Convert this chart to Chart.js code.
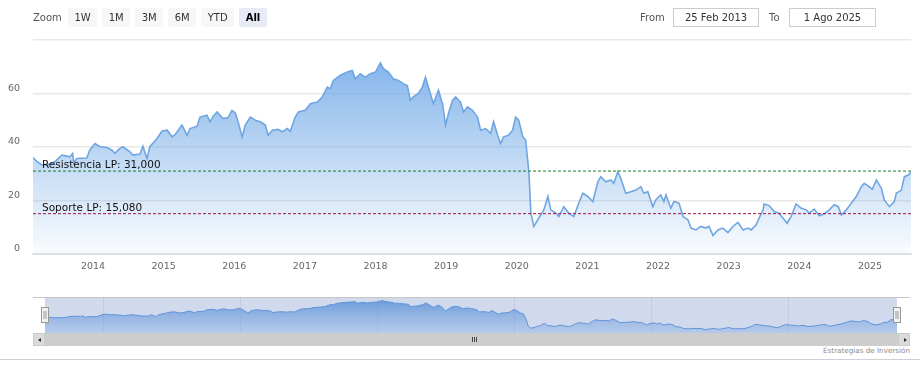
<!DOCTYPE html>
<html>
<head>
<meta charset="utf-8">
<script src="https://cdn.jsdelivr.net/npm/chart.js@4.4.1/dist/chart.umd.min.js"></script>
<style>
  html,body{margin:0;padding:0;background:#fff;}
  body{width:920px;height:369px;position:relative;overflow:hidden;font-family:"DejaVu Sans",sans-serif;}
  #main{position:absolute;left:0;top:0;}
  #nav{position:absolute;left:0;top:290px;}
  .lbl{position:absolute;font-size:10px;color:#555;line-height:19px;top:8px;}
  #btns{position:absolute;left:68px;top:8px;display:flex;gap:5px;}
  .btn{height:19px;line-height:19px;padding:0 6.5px;background:#f7f7f7;color:#333;font-size:10px;border-radius:2px;}
  .btn.sel{background:#e6ebf5;color:#000;font-weight:bold;}
  .box{position:absolute;top:8px;height:17px;line-height:17px;border:1px solid #ccc;text-align:center;font-size:10px;color:#333;background:#fff;}
  #track{position:absolute;left:33px;top:333px;width:877px;height:13px;background:#cdcdcd;}
  .sbtn{position:absolute;top:333px;width:12px;height:13px;background:#dadada;box-sizing:border-box;border:1px solid #cacaca;}
  .arrL{position:absolute;left:4px;top:4px;width:0;height:0;border-top:2.5px solid transparent;border-bottom:2.5px solid transparent;border-right:3px solid #333;}
  .arrR{position:absolute;left:5px;top:4px;width:0;height:0;border-top:2.5px solid transparent;border-bottom:2.5px solid transparent;border-left:3px solid #333;}
  .grip{position:absolute;top:337px;width:1px;height:5px;background:#444;}
  #credits{position:absolute;right:10px;top:346px;font-size:7.2px;color:#8a8a8a;}
  #hr{position:absolute;left:0;top:359px;width:920px;height:1px;background:#cdd1da;}
</style>
</head>
<body>
<canvas id="main" width="920" height="285"></canvas>
<canvas id="nav" width="920" height="43"></canvas>
<div class="lbl" style="left:33px">Zoom</div>
<div id="btns"></div>
<div class="lbl" style="left:640px">From</div>
<div class="box" style="left:673px;width:84px">25 Feb 2013</div>
<div class="lbl" style="left:769px">To</div>
<div class="box" style="left:789px;width:85px">1 Ago 2025</div>
<div id="track"></div>
<div class="sbtn" style="left:33px"><div class="arrL"></div></div>
<div class="sbtn" style="left:898px"><div class="arrR"></div></div>
<div class="grip" style="left:472px"></div>
<div class="grip" style="left:474px"></div>
<div class="grip" style="left:476px"></div>
<div id="credits">Estrategias de Inversión</div>
<div id="hr"></div>
<script>
// ---------- data ----------
const rangeButtons = ['1W','1M','3M','6M','YTD','All'];
const selectedButton = 'All';

const dates = [
'2013-02-25','2013-03-18','2013-04-12','2013-05-23','2013-06-18','2013-07-24','2013-08-19','2013-09-03','2013-09-18','2013-09-24',
'2013-10-09','2013-11-30','2013-12-15','2014-01-11','2014-02-06','2014-03-14','2014-04-09','2014-04-24','2014-05-20','2014-06-05',
'2014-07-11','2014-07-26','2014-09-01','2014-09-16','2014-10-07','2014-10-22','2014-11-28','2014-12-24','2015-01-19','2015-02-14',
'2015-03-01','2015-04-06','2015-05-02','2015-05-17','2015-06-23','2015-07-08','2015-08-13','2015-08-29','2015-09-14','2015-10-04',
'2015-11-04','2015-11-30','2015-12-20','2016-01-06','2016-01-21','2016-02-11','2016-02-27','2016-03-24','2016-04-19','2016-05-15',
'2016-06-10','2016-06-25','2016-07-16','2016-08-16','2016-09-06','2016-10-02','2016-10-17','2016-11-12','2016-11-28','2017-01-03',
'2017-01-29','2017-03-06','2017-04-01','2017-04-27','2017-05-12','2017-05-28','2017-07-03','2017-08-08','2017-09-03','2017-09-18',
'2017-10-14','2017-11-09','2017-12-05','2018-01-01','2018-01-26','2018-02-11','2018-03-08','2018-04-03','2018-04-29','2018-05-25',
'2018-06-14','2018-06-30','2018-07-15','2018-08-10','2018-08-31','2018-09-16','2018-10-01','2018-10-27','2018-11-22','2018-12-13',
'2018-12-29','2019-01-13','2019-02-03','2019-02-19','2019-03-16','2019-04-01','2019-04-21','2019-05-17','2019-06-12','2019-06-28',
'2019-07-24','2019-08-19','2019-09-03','2019-09-24','2019-10-09','2019-10-25','2019-11-19','2019-12-10','2019-12-26','2020-01-11',
'2020-02-01','2020-02-16','2020-03-04','2020-03-14','2020-03-29','2020-04-19','2020-05-04','2020-05-20','2020-06-10','2020-06-25',
'2020-07-21','2020-08-06','2020-08-31','2020-09-26','2020-10-22','2020-11-17','2020-12-08','2021-01-03','2021-01-29','2021-02-24',
'2021-03-11','2021-04-06','2021-05-02','2021-05-17','2021-06-07','2021-06-22','2021-07-18','2021-08-13','2021-09-08','2021-10-04',
'2021-10-19','2021-11-09','2021-12-05','2021-12-20','2022-01-15','2022-01-31','2022-02-11','2022-03-08','2022-03-24','2022-04-19',
'2022-05-10','2022-06-04','2022-06-20','2022-07-16','2022-08-10','2022-09-05','2022-09-21','2022-10-12','2022-11-06','2022-12-02',
'2022-12-28','2023-01-23','2023-02-18','2023-03-16','2023-04-11','2023-04-27','2023-05-23','2023-06-07','2023-06-28','2023-07-03',
'2023-07-29','2023-08-24','2023-09-18','2023-10-09','2023-10-30','2023-11-19','2023-12-15','2024-01-11','2024-02-06','2024-02-21',
'2024-03-18','2024-04-13','2024-05-09','2024-06-04','2024-06-30','2024-07-21','2024-08-06','2024-08-31','2024-09-26','2024-10-22',
'2024-11-17','2024-12-02','2024-12-28','2025-01-13','2025-02-03','2025-03-01','2025-03-16','2025-04-11','2025-05-07','2025-05-17',
'2025-06-12','2025-06-28','2025-07-18','2025-08-01'
];
const prices = [
36.1,34.5,33.3,33.6,34.5,37.0,36.6,36.3,37.6,34.0,
35.7,35.9,38.8,41.3,40.1,39.8,38.8,37.6,39.5,40.1,
38.2,37.0,37.4,40.3,35.7,40.1,43.2,46.0,46.3,43.8,
44.6,48.2,44.4,46.9,47.8,51.2,51.9,49.4,51.5,53.1,
50.6,51.0,53.7,52.8,49.4,43.8,48.2,51.2,50.0,49.4,
48.2,44.4,46.3,46.6,45.7,46.9,45.9,51.2,53.1,53.7,
56.2,56.8,58.7,62.4,61.8,64.9,66.8,68.0,68.6,65.5,
67.4,66.1,67.4,68.0,71.4,69.3,68.0,65.5,64.9,63.7,
63.0,57.5,58.7,60.0,62.4,66.1,62.4,56.2,61.2,56.2,
48.2,52.5,57.5,58.7,56.8,53.1,55.0,53.7,51.2,46.3,
46.9,45.1,49.4,44.4,41.3,43.8,44.4,46.3,51.2,50.0,
43.8,42.6,30.2,15.3,10.3,12.8,14.6,16.5,21.5,16.5,
15.3,14.0,17.7,15.3,14.0,19.0,22.7,21.5,19.6,27.0,
28.9,27.0,27.7,26.4,30.8,28.3,22.7,23.3,23.9,25.2,
22.7,23.3,17.7,20.2,22.1,19.6,22.1,17.1,19.6,19.0,
14.0,12.8,9.7,9.0,10.3,9.7,10.3,6.9,9.0,9.7,
8.0,10.3,11.8,9.0,9.7,9.0,10.9,13.4,16.5,18.7,
18.1,15.9,15.3,13.4,11.5,14.0,18.7,17.1,16.5,15.3,
16.8,14.3,15.0,16.5,18.4,17.7,14.6,16.5,19.0,21.5,
25.2,26.4,25.2,24.2,27.7,24.6,20.2,17.7,19.6,22.7,
23.9,28.9,29.5,30.6
];

const levelNames = ['Resistencia LP', 'Soporte LP'];
const levelValues = [31.000, 15.080];
const levelColors = ['#1f7a2c', '#a3123f'];

const priceTicks = [0, 20, 40, 60, 80];
const yearTicks = [2014,2015,2016,2017,2018,2019,2020,2021,2022,2023,2024,2025];
const navigatorTicks = [2014,2016,2018,2020,2022,2024];

// ---------- helpers ----------
function toYear(s){
  const [y,m,d] = s.split('-').map(Number);
  const t = Date.UTC(y,m-1,d), a = Date.UTC(y,0,1), b = Date.UTC(y+1,0,1);
  return y + (t-a)/(b-a);
}
const points = dates.map((d,i)=>({x:toYear(d), y:prices[i]}));
const xMin = points[0].x, xMax = points[points.length-1].x;
const FONT = 'DejaVu Sans';

// toolbar buttons
const bc = document.getElementById('btns');
rangeButtons.forEach(b=>{
  const el = document.createElement('div');
  el.className = 'btn' + (b===selectedButton ? ' sel' : '');
  el.textContent = b;
  bc.appendChild(el);
});

function areaGradient(ctx, area, c0, c1){
  const g = ctx.createLinearGradient(0, area.top, 0, area.bottom);
  g.addColorStop(0, c0);
  g.addColorStop(1, c1);
  return g;
}

// ---------- main chart ----------
const levelLabelPlugin = {
  id:'levelLabels',
  afterDatasetsDraw(chart){
    const {ctx, chartArea, scales:{y}} = chart;
    ctx.save();
    ctx.font = '10.5px "' + FONT + '"';
    ctx.fillStyle = '#111';
    ctx.textBaseline = 'alphabetic';
    ctx.textAlign = 'left';
    levelNames.forEach((n,i)=>{
      const py = y.getPixelForValue(levelValues[i]);
      ctx.fillText(n + ': ' + levelValues[i].toFixed(3).replace('.', ','), chartArea.left + 9, py - 3);
    });
    ctx.restore();
  }
};

const levelDatasets = levelValues.map((v,i)=>({
  data:[{x:xMin,y:v},{x:xMax,y:v}],
  borderColor: levelColors[i], borderWidth:1, borderDash:[3,2],
  pointRadius:0, fill:false, order:0
}));

new Chart(document.getElementById('main'), {
  type:'line',
  data:{datasets:[
    {
      data: points, order:1,
      borderColor:'#6fa6e2', borderWidth:1.6, pointRadius:0, tension:0,
      fill:'origin',
      backgroundColor: c => {
        const a = c.chart.chartArea;
        if(!a) return 'rgba(124,176,232,0.5)';
        return areaGradient(c.chart.ctx, a, 'rgba(118,172,232,1)', 'rgba(124,176,232,0.04)');
      }
    },
    ...levelDatasets
  ]},
  options:{
    responsive:false, animation:false, events:[],
    layout:{padding:{top:40, right:9, left:0, bottom:0}},
    plugins:{legend:{display:false}, tooltip:{enabled:false}},
    scales:{
      x:{
        type:'linear', min:xMin, max:xMax,
        afterBuildTicks: s => { s.ticks = yearTicks.map(v=>({value:v})); },
        afterFit: s => { s.height = 31; },
        grid:{display:false, drawTicks:false},
        border:{display:true, color:'#dde1e7', width:2},
        ticks:{autoSkip:false, maxRotation:0, padding:7, color:'#666', font:{family:FONT, size:9.5}, callback: v => String(v)}
      },
      y:{
        min:0, max:80,
        afterBuildTicks: s => { s.ticks = priceTicks.map(v=>({value:v})); },
        afterFit: s => { s.width = 33; },
        grid:{color:'#e8e8e8', lineWidth:1.5, drawTicks:false},
        border:{display:false},
        ticks:{padding:13, labelOffset:-5, color:'#666', font:{family:FONT, size:9.5}, callback: v => v===80 ? '' : String(v)}
      }
    }
  },
  plugins:[levelLabelPlugin]
});

// ---------- navigator ----------
const navPlugin = {
  id:'navDeco',
  beforeDraw(chart){
    const {ctx, chartArea:a} = chart;
    ctx.save();
    ctx.fillStyle = 'rgba(102,133,194,0.3)';
    ctx.fillRect(a.left, a.top, a.right-a.left, a.bottom-a.top);
    ctx.restore();
  },
  afterDraw(chart){
    const {ctx, chartArea:a, scales:{x}} = chart;
    ctx.save();
    ctx.strokeStyle = '#c6c6c6';
    ctx.lineWidth = 1;
    ctx.beginPath();
    ctx.moveTo(33, a.top + 0.5); ctx.lineTo(910, a.top + 0.5);
    ctx.stroke();
    [xMin, xMax].forEach(v=>{
      const px = Math.round(x.getPixelForValue(v));
      const cy = (a.top + a.bottom)/2;
      ctx.fillStyle = '#f2f2f2';
      ctx.strokeStyle = '#999';
      ctx.fillRect(px-3.5, cy-7.5, 7, 15);
      ctx.strokeRect(px-3.5, cy-7.5, 7, 15);
      ctx.beginPath();
      ctx.moveTo(px-1, cy-4); ctx.lineTo(px-1, cy+4);
      ctx.moveTo(px+1, cy-4); ctx.lineTo(px+1, cy+4);
      ctx.stroke();
    });
    ctx.restore();
  }
};

new Chart(document.getElementById('nav'), {
  type:'line',
  data:{datasets:[{
    data: points,
    borderColor:'#5f93d9', borderWidth:1, pointRadius:0, tension:0,
    fill:'origin',
    backgroundColor: c => {
      const a = c.chart.chartArea;
      if(!a) return 'rgba(90,140,215,0.6)';
      return areaGradient(c.chart.ctx, a, 'rgba(80,135,212,0.85)', 'rgba(130,172,228,0.35)');
    }
  }]},
  options:{
    responsive:false, animation:false, events:[],
    layout:{padding:{top:7, left:45, right:23, bottom:0}},
    plugins:{legend:{display:false}, tooltip:{enabled:false}},
    scales:{
      x:{
        type:'linear', min:xMin, max:xMax,
        afterBuildTicks: s => { s.ticks = navigatorTicks.map(v=>({value:v})); },
        afterFit: s => { s.height = 0; },
        grid:{color:'#c4cbdc', lineWidth:1, drawTicks:false},
        border:{display:false},
        ticks:{z:1, align:'start', labelOffset:3, padding:-13.7, autoSkip:false, maxRotation:0,
               color:'#8c8c8c', font:{family:FONT, size:9.5}, callback: v => String(v)}
      },
      y:{display:false, min:0, max:79}
    }
  },
  plugins:[navPlugin]
});
</script>
</body>
</html>
